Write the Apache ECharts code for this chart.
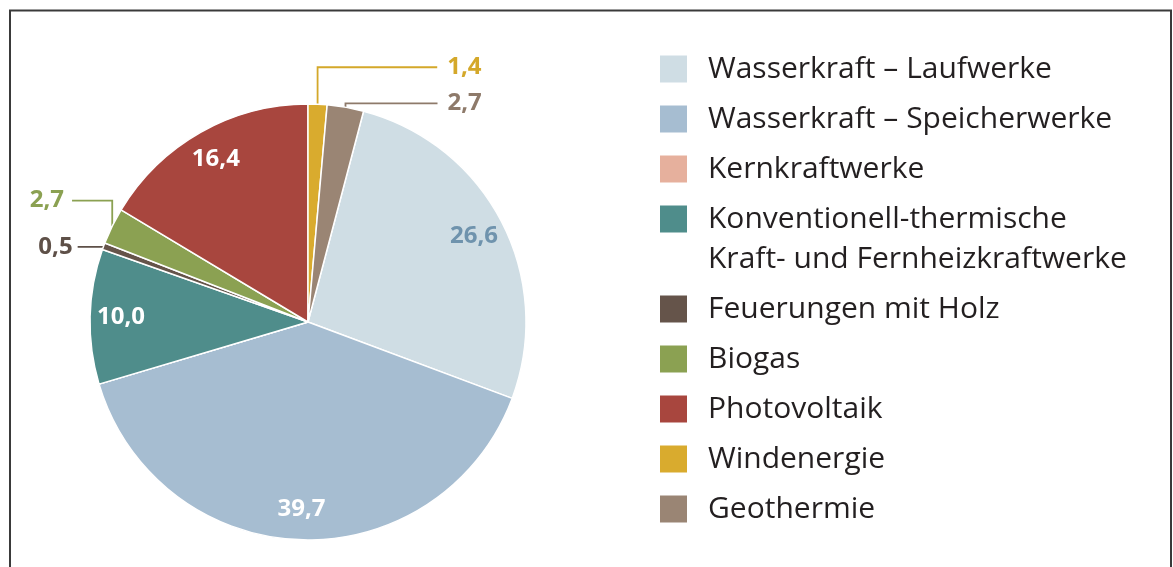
<!DOCTYPE html>
<html>
<head>
<meta charset="utf-8">
<script src="https://cdn.jsdelivr.net/npm/echarts@6/dist/echarts.min.js"></script>
<style>
html, body { margin: 0; background: #fff; }
#chart { width: 1173px; height: 567px; }
</style>
</head>
<body>
<div id="chart"></div>
<script>
var names = [
    'Wasserkraft – Laufwerke',
    'Wasserkraft – Speicherwerke',
    'Kernkraftwerke',
    'Konventionell-thermische Kraft- und Fernheizkraftwerke',
    'Feuerungen mit Holz',
    'Biogas',
    'Photovoltaik',
    'Windenergie',
    'Geothermie'
];
var values = [26.6, 39.7, 0, 10.0, 0.5, 2.7, 16.4, 1.4, 2.7];
var colors = ['#cfdde4', '#a6bdd1', '#e6b09d', '#4f8d8b', '#65544a', '#8ba152', '#a8463e', '#d9ab2e', '#9a8574'];

// which slices get their number inside, which get a leader line
var insideColors = { 0: '#6f93ad', 1: '#ffffff', 3: '#ffffff', 6: '#ffffff' };
var outsideColors = { 4: '#5e5048', 5: '#8ba152', 7: '#d4a82a', 8: '#8e7a6a' };
// leader line settings: length, length2, gap to text, vertical shift of text
var lineCfg = {
    4: [1, 25, 5, 1],
    5: [8, 33, 8, -22],
    7: [37, 118, 10, 0],
    8: [6, 91, 10, 2]
};

var font = '"Open Sans", "Noto Sans", sans-serif';
var legendLines = {
    'Konventionell-thermische Kraft- und Fernheizkraftwerke': ['Konventionell-thermische', 'Kraft- und Fernheizkraftwerke']
};

function fmt(v) {
    return v.toFixed(1).replace('.', ',');
}

var sum = values.reduce(function (a, b) { return a + b; }, 0);
var startAngle = 90 - 360 * (values[7] + values[8]) / sum;

var mainData = names.map(function (n, i) {
    var item = { name: n, value: values[i], itemStyle: { color: colors[i] } };
    if (outsideColors[i]) {
        var c = lineCfg[i];
        item.label = { show: true, color: outsideColors[i], distanceToLabelLine: c[2] };
        item.labelLine = { show: true, length: c[0], length2: c[1], lineStyle: { color: outsideColors[i], width: 1.8 } };
    } else {
        item.label = { show: false };
        item.labelLine = { show: false };
    }
    return item;
});

var ringData = names.map(function (n, i) {
    return {
        name: n,
        value: values[i],
        label: insideColors[i] ? { show: true, color: insideColors[i] } : { show: false }
    };
});

function legendBase(data, top) {
    return {
        orient: 'vertical',
        left: 660,
        top: top,
        padding: 0,
        data: data,
        icon: 'rect',
        itemWidth: 27,
        itemHeight: 27,
        itemGap: 20,
        selectedMode: false,
        itemStyle: { borderWidth: 0 },
        formatter: function (n) {
            return legendLines[n] ? legendLines[n][0] : n;
        },
        textStyle: {
            fontFamily: font,
            fontSize: 30,
            lineHeight: 30,
            color: '#231f20',
            padding: [0, 0, 0, 16]
        }
    };
}

var chart = echarts.init(document.getElementById('chart'));

var option = {
    backgroundColor: '#ffffff',
    animation: false,
    legend: [
        legendBase(names.slice(0, 4), 54),
        legendBase(names.slice(4), 294)
    ],
    graphic: [
        {
            type: 'rect',
            shape: { x: 10, y: 10.5, width: 1161, height: 600 },
            style: { fill: 'none', stroke: '#3a3a3a', lineWidth: 2 },
            silent: true
        },
        {
            type: 'text',
            left: 708,
            top: 244,
            style: {
                text: legendLines[names[3]][1],
                font: '30px ' + font,
                fill: '#231f20'
            },
            silent: true
        }
    ],
    series: [
        {
            type: 'pie',
            center: [308, 322],
            radius: [0, 218],
            startAngle: startAngle,
            clockwise: true,
            avoidLabelOverlap: false,
            emphasis: { disabled: true },
            itemStyle: { borderColor: '#ffffff', borderWidth: 1.5 },
            label: {
                position: 'outside',
                fontFamily: font,
                fontSize: 24,
                fontWeight: 'bold',
                formatter: function (p) { return fmt(p.value); }
            },
            labelLayout: function (p) {
                var cfg = lineCfg[p.dataIndex];
                var pts = p.labelLinePoints;
                if (!cfg || !pts) return;
                var dy = cfg[3];
                var a = pts[0];
                var c = pts[2];
                return {
                    dy: dy,
                    labelLinePoints: [a, [a[0], c[1] + dy], [c[0], c[1] + dy]]
                };
            },
            data: mainData
        },
        {
            type: 'pie',
            center: [308, 322],
            radius: [150, 218],
            startAngle: startAngle,
            clockwise: true,
            silent: true,
            legendHoverLink: false,
            avoidLabelOverlap: false,
            emphasis: { disabled: true },
            itemStyle: { color: 'rgba(0,0,0,0)', borderWidth: 0 },
            label: {
                position: 'inside',
                fontFamily: font,
                fontSize: 24,
                fontWeight: 'bold',
                formatter: function (p) { return fmt(p.value); }
            },
            labelLine: { show: false },
            data: ringData
        }
    ]
};

chart.setOption(option);
</script>
</body>
</html>
